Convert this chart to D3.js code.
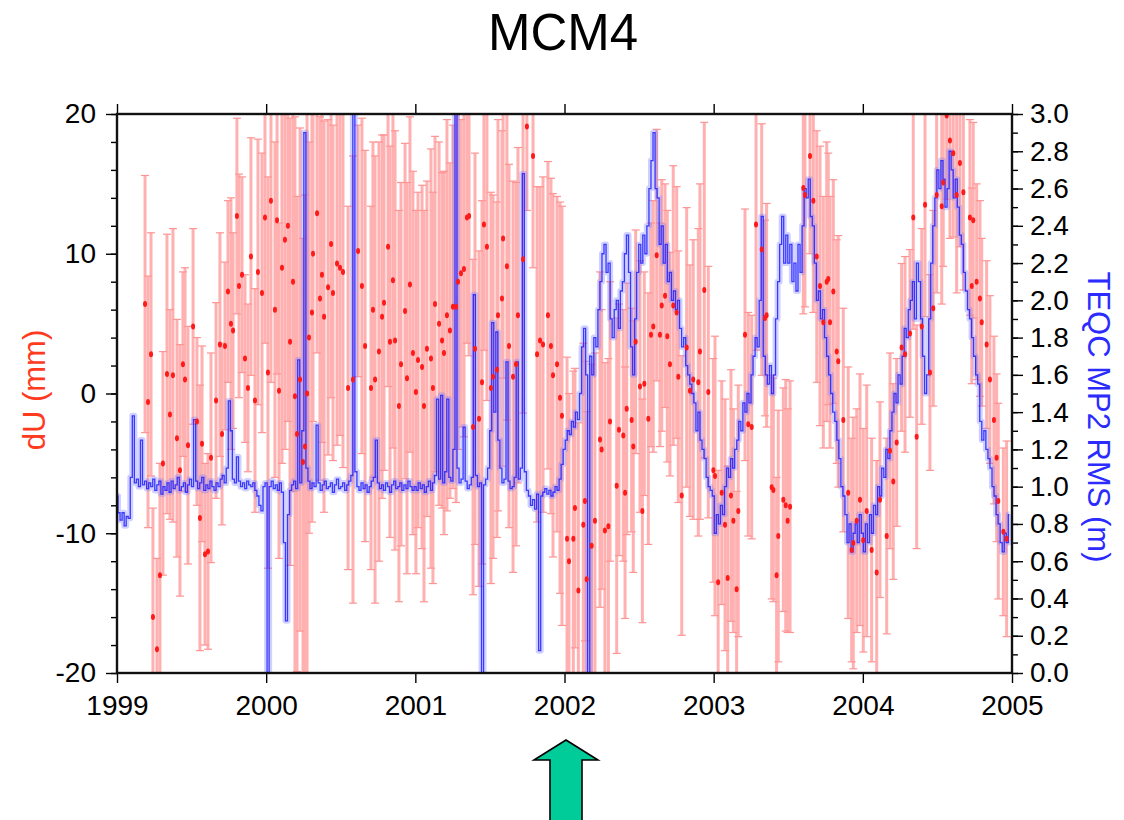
<!DOCTYPE html>
<html>
<head>
<meta charset="utf-8">
<script src="https://cdn.jsdelivr.net/npm/d3@7"></script>
<style>
  html, body { margin: 0; padding: 0; background: #fff; }
  svg { display: block; }
  text { font-family: "Liberation Sans", Arial, Helvetica, sans-serif; }
</style>
</head>
<body>
<svg id="chart" width="1124" height="820"></svg>
<script>
// ---- Station and axis setup ----
const stationName = "MCM4";
const yearTicks = [1999, 2000, 2001, 2002, 2003, 2004, 2005];
const duTicks = [-20, -10, 0, 10, 20];
const rmsTicks = [0.0, 0.2, 0.4, 0.6, 0.8, 1.0, 1.2, 1.4, 1.6, 1.8, 2.0, 2.2, 2.4, 2.6, 2.8, 3.0];

// ---- Weekly vertical solutions: epoch (yr), dU (mm), 1-sigma (mm) ----
const redYear = [
  1999.188,1999.208,1999.228,1999.241,1999.268,1999.288,1999.308,1999.335,1999.355,1999.375,
  1999.402,1999.422,1999.442,1999.456,1999.476,1999.510,1999.536,1999.556,1999.570,1999.590,
  1999.610,1999.630,1999.664,1999.690,1999.704,1999.724,1999.744,1999.764,1999.778,1999.804,
  1999.818,1999.838,1999.858,1999.878,1999.898,1999.925,1999.945,1999.972,1999.992,
  2000.012,2000.032,2000.059,2000.073,2000.086,2000.106,2000.126,2000.146,2000.160,2000.180,
  2000.193,2000.207,2000.227,2000.247,2000.260,2000.274,2000.287,2000.307,2000.314,2000.341,
  2000.361,2000.374,2000.388,2000.415,2000.435,2000.448,2000.475,2000.495,2000.515,2000.549,
  2000.582,2000.616,2000.642,2000.663,2000.703,2000.716,2000.730,2000.756,2000.777,2000.790,
  2000.817,2000.830,2000.850,2000.864,2000.890,2000.904,2000.931,2000.944,2000.964,2000.984,
  2001.004,2001.018,2001.045,2001.058,2001.078,2001.105,2001.118,2001.132,2001.159,2001.179,
  2001.192,2001.212,2001.232,2001.252,2001.273,2001.286,2001.306,2001.326,2001.346,2001.360,
  2001.387,2001.400,2001.427,2001.447,2001.460,2001.480,2001.507,2001.521,2001.547,2001.554,
  2001.581,2001.588,2001.614,2001.628,2001.655,2001.675,2001.688,2001.722,2001.748,2001.789,
  2001.816,2001.836,2001.856,2001.889,2001.909,2001.923,2001.950,2001.970,2001.983,
  2002.017,2002.030,2002.059,2002.070,2002.093,2002.126,2002.137,2002.149,2002.182,2002.204,
  2002.238,2002.249,2002.271,2002.294,2002.305,2002.350,2002.365,2002.394,2002.406,2002.417,
  2002.450,2002.461,2002.477,2002.506,2002.522,2002.535,2002.562,2002.580,2002.595,2002.618,
  2002.640,2002.652,2002.674,2002.689,2002.707,2002.729,2002.752,2002.763,2002.786,2002.819,
  2002.841,2002.863,2002.897,2002.908,2002.937,2002.964,2002.998,
  2003.009,2003.030,2003.054,2003.076,2003.094,2003.116,2003.132,2003.154,2003.165,2003.210,
  2003.232,2003.255,2003.284,2003.322,2003.344,2003.355,2003.389,2003.400,2003.422,2003.433,
  2003.467,2003.483,2003.496,2003.512,2003.601,2003.612,2003.646,2003.668,2003.691,2003.713,
  2003.735,2003.758,2003.768,2003.780,2003.802,2003.825,2003.835,2003.869,2003.902,2003.925,
  2003.936,2003.959,2003.981,
  2004.003,2004.026,2004.059,2004.093,2004.115,2004.160,2004.182,2004.204,2004.227,2004.260,
  2004.283,2004.316,2004.338,2004.361,2004.395,2004.417,2004.450,2004.472,2004.495,2004.529,
  2004.539,2004.562,2004.584,2004.606,2004.629,2004.651,2004.674,2004.718,2004.730,2004.740,
  2004.763,2004.785,2004.797,2004.830,2004.852,2004.879,2004.897,2004.908,2004.942,2004.964
];
const redValue = [
  6.4,-0.6,2.8,-16.0,-18.3,-13.0,-5.0,1.4,-1.5,1.3,
  -3.2,-5.5,2.1,1.0,-3.7,4.8,-2.0,-8.9,-3.6,-11.5,
  -11.3,-4.6,-0.5,3.5,-2.9,3.4,7.3,5.0,4.5,12.7,
  7.7,8.5,2.5,0.4,9.8,-0.5,8.7,7.2,12.6,
  1.5,13.8,6.0,12.4,0.2,9.0,11.0,12.0,3.7,8.0,
  -0.2,-2.9,1.0,-4.9,-3.8,0.0,4.0,5.8,10.0,12.9,
  6.8,8.5,5.5,7.6,10.7,7.2,9.3,9.0,8.7,0.4,
  1.0,10.2,7.7,3.4,0.4,6.0,1.0,3.0,5.5,6.5,
  10.5,3.7,8.1,3.8,-0.9,2.1,5.9,1.1,7.8,2.9,
  0.1,2.4,1.9,-0.9,3.2,2.5,0.4,6.4,5.0,3.8,
  2.9,5.6,4.5,6.2,6.2,8.0,8.6,8.9,12.6,12.7,
  -2.4,3.2,-1.8,0.8,12.1,10.5,0.4,1.2,1.7,5.6,
  6.8,11.1,9.1,3.4,1.2,2.1,5.6,9.6,19.1,17.0,
  2.8,3.8,3.5,5.6,3.4,1.3,2.1,-0.3,-1.6,
  -10.4,-12.0,-10.4,-8.2,-14.1,-9.4,-7.7,-13.3,-10.9,-9.1,
  -3.3,-4.0,-9.8,-9.5,-2.0,-6.6,-2.6,-3.0,-7.1,-1.1,
  -1.9,-3.8,3.7,0.5,-8.4,0.7,-1.8,4.2,4.8,9.9,
  4.2,6.3,7.0,4.1,2.1,6.3,5.8,1.2,-7.3,3.3,
  0.2,1.0,0.8,3.0,7.4,0.1,-5.5,
  -5.9,-13.5,-7.1,-9.4,-13.2,-7.3,-9.1,-14.0,-8.4,4.2,
  -2.2,-2.4,12.1,10.3,5.4,5.6,-6.7,-6.9,-13.0,-10.2,
  -7.6,-8.0,-9.1,-8.1,14.7,14.2,17.0,13.8,9.8,7.7,
  5.1,8.0,8.2,5.1,7.3,3.0,2.3,-1.9,-7.1,-11.2,
  -10.7,-9.1,-7.6,
  -10.5,-8.4,-11.2,-12.8,-7.6,-10.2,-4.1,-6.3,-3.5,3.3,
  2.8,4.3,12.6,-3.1,4.8,13.5,1.5,6.1,14.2,13.4,
  15.1,19.9,18.1,17.2,14.2,16.5,14.4,12.6,7.7,12.4,
  8.0,6.8,5.1,3.5,1.0,-1.9,-4.6,-7.7,-9.9,-10.4
];
const redError = [
  9.2,9.0,8.7,7.8,6.5,8.0,8.0,10.0,7.5,10.5,
  8.5,9.0,6.6,8.0,8.5,7.0,6.0,9.5,7.0,6.5,
  7.0,7.5,7.0,8.0,6.5,6.0,6.5,9.0,7.0,7.0,
  8.0,7.0,6.0,6.0,8.5,8.0,9.5,10.0,9.0,
  14,13,12,11,12,14,15,14,16,15,
  20,17,18,16,18,20,14,15,12,10,
  13,12,14,12,11,12,13,12,14,13,
  16,9,12,14,13,12,16,15,13,12,
  10,14,12,15,14,13,12,14,12,13,
  13,12,13,14,12,15,14,12,13,12,
  13,14,12,13,14,12,11,12,9,10,
  12,14,12,13,9,11,14,13,12,14,
  12,10,11,13,14,13,12,11,6,8,
  12,11,12,11,12,13,12,14,15,
  13,12,12,10,12,13,10,12,13,12,
  12,10,12,12,10,12,9,9,9,9,
  8,9,8,9,8,8,9,8,9,9,
  8,9,8,9,8,10,9,9,10,10,
  9,10,11,12,12,9,8,
  10,8,8,9,8,9,8,7,9,9,
  8,8,9,9,7,8,8,8,7,9,
  8,9,8,9,9,8,7,8,9,10,
  9,10,9,9,8,8,9,8,9,8,
  9,8,9,
  8,9,8,8,7,7,7,7,6,6,
  7,6,8,8,7,8,7,7,7,7,
  6,6,7,6,7,6,7,7,7,7,
  7,7,6,6,6,6,6,7,6,7
];

// ---- TEQC multipath (MP2) RMS, 5-day samples from 1999.0 (m) ----
const rmsStartYear = 1999.0;
const rmsStepDays = 5;
const rms1999 = [
  0.95,0.86,0.82,0.86,0.79,0.84,0.83,1.05,1.38,1.02,1.04,1.00,1.25,1.01,1.03,0.99,1.02,1.00,1.04,0.98,
  1.01,1.03,0.96,1.00,0.98,1.02,0.97,1.03,0.99,1.01,1.05,0.98,1.00,1.02,0.97,1.01,1.04,1.00,1.36,1.03,
  0.99,1.02,1.05,0.98,1.01,0.99,1.03,1.00,0.98,1.02,1.00,1.04,1.06,1.02,1.10,1.46,1.30,1.04,1.02,1.16,
  1.03,1.00,1.02,0.99,1.03,1.01,1.00,1.02,0.98,0.95,0.90,0.87,1.00
];
const rms2000 = [
  1.02,0.00,1.00,1.03,0.99,1.01,0.98,1.02,0.97,0.70,0.28,0.85,0.98,1.01,1.03,0.99,1.68,1.02,1.30,2.90,
  1.10,1.03,0.99,1.02,1.00,1.33,1.02,0.98,1.01,1.03,0.99,1.00,1.02,0.97,1.01,1.04,0.99,1.00,1.02,0.98,
  1.01,1.03,1.06,3.10,1.08,1.00,0.98,1.02,0.99,1.01,0.97,1.00,1.03,1.05,1.25,1.02,0.99,1.01,0.98,1.02,
  1.00,0.97,1.01,1.03,0.99,1.00,1.02,0.98,1.01,0.99,1.03,1.00,0.98
];
const rms2001 = [
  1.00,0.98,1.02,0.99,1.01,0.97,1.00,1.03,0.98,1.02,1.06,1.47,1.04,1.49,1.02,1.08,1.47,1.05,1.03,1.20,
  3.10,1.10,1.02,1.04,1.32,1.03,0.99,1.01,1.05,2.03,1.06,1.00,1.02,0.00,1.01,1.04,1.10,1.30,1.88,1.40,
  1.83,1.25,1.10,1.02,1.04,1.67,1.03,0.99,1.00,1.05,1.67,1.04,1.10,2.68,1.08,0.98,0.95,0.90,0.93,0.88,
  0.96,0.12,0.95,0.97,0.99,0.96,0.98,0.95,0.97,1.00,0.98,1.04,1.12
];
const rms2002 = [
  1.20,1.25,1.30,1.28,1.35,1.32,1.40,1.36,1.50,1.75,1.85,1.60,0.00,1.70,1.60,1.80,1.75,1.95,2.10,2.25,
  2.30,2.15,2.20,1.90,1.80,1.95,2.00,1.85,2.05,2.10,2.25,2.35,2.15,1.75,1.60,1.90,2.15,2.30,2.20,2.35,
  2.25,2.40,2.60,2.75,2.90,2.60,2.55,2.30,2.40,2.20,2.30,2.10,2.15,2.00,2.05,1.95,2.00,1.85,1.75,1.80,
  1.65,1.60,1.55,1.50,1.45,1.30,1.40,1.25,1.20,1.15,1.05,1.00,0.98
];
const rms2003 = [
  0.95,0.75,0.85,0.80,0.90,0.85,1.00,1.10,1.05,1.15,1.10,1.20,1.25,1.35,1.30,1.45,1.40,1.50,1.45,1.60,
  1.70,1.80,1.75,2.00,2.45,1.70,1.60,1.55,1.65,1.50,1.60,1.90,2.10,2.30,2.45,2.20,2.35,2.20,2.30,2.10,
  2.20,2.05,2.30,2.15,2.40,2.60,2.55,2.65,2.45,2.40,2.20,2.00,2.05,1.90,1.95,1.80,1.70,1.60,1.50,1.40,
  1.35,1.25,1.15,1.00,0.95,0.85,0.70,0.80,0.65,0.75,0.80,0.70,0.85
];
const rms2004 = [
  0.75,0.65,0.80,0.70,0.85,0.75,0.90,0.85,1.00,0.95,1.10,1.05,1.20,1.15,1.30,1.40,1.50,1.45,1.60,1.55,
  1.70,1.85,1.80,1.95,2.00,2.10,1.90,2.20,2.10,1.90,1.70,1.50,1.60,1.90,2.20,2.40,2.55,2.70,2.60,2.75,
  2.65,2.50,2.60,2.80,2.70,2.55,2.65,2.50,2.35,2.30,2.15,2.05,1.95,1.90,1.80,1.70,1.60,1.55,1.35,1.25,
  1.30,1.20,1.15,1.10,1.00,0.95,0.85,0.80,0.70,0.65,0.75,0.70,0.85
];

// ---- Build records ----
const red = redYear.map((t, i) => ({ t, v: redValue[i], e: redError[i] }));
const rmsValues = [].concat(rms1999, rms2000, rms2001, rms2002, rms2003, rms2004);
const rms = rmsValues.map((v, k) => ({ t: rmsStartYear + k * rmsStepDays / 365.25, v }));

// ---- Layout ----
const svg = d3.select("#chart");
const plot = { left: 117, right: 1012, top: 114, bottom: 673 };

const x = d3.scaleLinear().domain([1999, 2005]).range([plot.left, plot.right]);
const yL = d3.scaleLinear().domain([-20, 20]).range([plot.bottom, plot.top]);
const yR = d3.scaleLinear().domain([0, 3]).range([plot.bottom, plot.top]);

svg.append("defs").append("clipPath").attr("id", "plotClip")
  .append("rect")
  .attr("x", plot.left).attr("y", plot.top)
  .attr("width", plot.right - plot.left).attr("height", plot.bottom - plot.top);

const g = svg.append("g").attr("clip-path", "url(#plotClip)");

// dU error bars
const pink = "#ffb0b0";
const bars = g.append("g");
bars.selectAll("line.bar").data(red).join("line")
  .attr("class", "bar")
  .attr("x1", d => x(d.t)).attr("x2", d => x(d.t))
  .attr("y1", d => yL(d.v + d.e)).attr("y2", d => yL(d.v - d.e))
  .attr("stroke", pink).attr("stroke-width", 3);
bars.selectAll("line.capTop").data(red).join("line")
  .attr("class", "capTop")
  .attr("x1", d => x(d.t) - 4).attr("x2", d => x(d.t) + 4)
  .attr("y1", d => yL(d.v + d.e)).attr("y2", d => yL(d.v + d.e))
  .attr("stroke", "#ff9494").attr("stroke-width", 1.2);
bars.selectAll("line.capBot").data(red).join("line")
  .attr("class", "capBot")
  .attr("x1", d => x(d.t) - 4).attr("x2", d => x(d.t) + 4)
  .attr("y1", d => yL(d.v - d.e)).attr("y2", d => yL(d.v - d.e))
  .attr("stroke", "#ff9494").attr("stroke-width", 1.2);

// MP2 RMS series: soft halo plus line, drawn as daily steps
const rmsLine = d3.line().curve(d3.curveStep).x(d => x(d.t)).y(d => yR(d.v));
g.append("path").datum(rms)
  .attr("d", rmsLine)
  .attr("fill", "none")
  .attr("stroke", "#7a7aff").attr("stroke-opacity", 0.35)
  .attr("stroke-width", 6).attr("stroke-linejoin", "round");
g.append("path").datum(rms)
  .attr("d", rmsLine)
  .attr("fill", "none")
  .attr("stroke", "#1f1fff").attr("stroke-opacity", 0.85)
  .attr("stroke-width", 1.3);

// dU points
g.append("g").selectAll("ellipse").data(red).join("ellipse")
  .attr("cx", d => x(d.t)).attr("cy", d => yL(d.v))
  .attr("rx", 2).attr("ry", 3)
  .attr("fill", "#ff1a1a");

// ---- Frame and axes ----
const axisFont = 28;
function styleAxis(sel) {
  sel.select(".domain").remove();
  sel.selectAll(".tick line").attr("stroke", "#000").attr("stroke-width", 1.4);
  sel.selectAll(".tick text")
    .attr("font-size", axisFont)
    .attr("fill", "#000")
    .style("font-family", "'Liberation Sans', Arial, Helvetica, sans-serif");
}

// left axis (dU)
svg.append("g").attr("transform", `translate(${plot.left},0)`)
  .call(d3.axisLeft(yL).tickValues(d3.range(-20, 21, 2)).tickSize(6).tickFormat(""))
  .call(styleAxis);
svg.append("g").attr("transform", `translate(${plot.left},0)`)
  .call(d3.axisLeft(yL).tickValues(duTicks).tickSize(11).tickPadding(10).tickFormat(d => String(d)))
  .call(styleAxis);

// right axis (RMS)
svg.append("g").attr("transform", `translate(${plot.right},0)`)
  .call(d3.axisRight(yR).tickValues(d3.range(0, 31, 1).map(d => d / 10)).tickSize(6).tickFormat(""))
  .call(styleAxis);
svg.append("g").attr("transform", `translate(${plot.right},0)`)
  .call(d3.axisRight(yR).tickValues(rmsTicks).tickSize(11).tickPadding(7).tickFormat(d3.format(".1f")))
  .call(styleAxis);

// bottom and top (years)
svg.append("g").attr("transform", `translate(0,${plot.bottom})`)
  .call(d3.axisBottom(x).tickValues(yearTicks).tickSize(10).tickPadding(12).tickFormat(d => String(d)))
  .call(styleAxis);
svg.append("g").attr("transform", `translate(0,${plot.top})`)
  .call(d3.axisTop(x).tickValues(yearTicks).tickSize(10).tickFormat(""))
  .call(styleAxis);

svg.append("rect")
  .attr("x", plot.left).attr("y", plot.top)
  .attr("width", plot.right - plot.left).attr("height", plot.bottom - plot.top)
  .attr("fill", "none").attr("stroke", "#111").attr("stroke-width", 2.4);

// ---- Titles ----
svg.append("text")
  .attr("x", 563).attr("y", 50)
  .attr("text-anchor", "middle")
  .attr("font-size", 51).attr("fill", "#000")
  .text(stationName);

svg.append("text")
  .attr("transform", `translate(45,390) rotate(-90)`)
  .attr("text-anchor", "middle")
  .attr("font-size", 31).attr("fill", "#ff3b1f")
  .text("dU (mm)");

svg.append("text")
  .attr("transform", `translate(1088,417) rotate(90)`)
  .attr("text-anchor", "middle")
  .attr("font-size", 31).attr("fill", "#2b2bff")
  .text("TEQC MP2 RMS (m)");

// ---- Marker arrow under the 2002 epoch ----
const ax = x(2002.01);
const arrow = [
  [ax, 740], [ax + 32, 760], [ax + 16, 760], [ax + 16, 822],
  [ax - 16, 822], [ax - 16, 760], [ax - 32, 760]
];
svg.append("polygon")
  .attr("points", arrow.map(p => p.join(",")).join(" "))
  .attr("fill", "#00cc99").attr("stroke", "#000").attr("stroke-width", 1.6);
</script>
</body>
</html>
